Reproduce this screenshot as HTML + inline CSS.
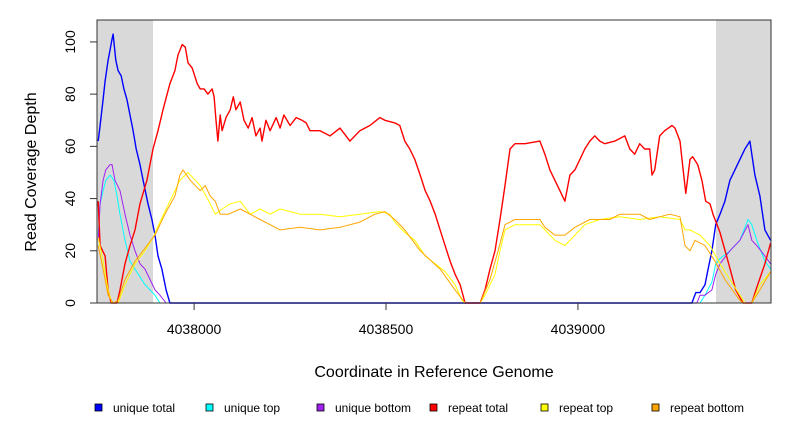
<!DOCTYPE html>
<html><head><meta charset="utf-8"><style>
body{margin:0;background:#fff;}
svg{display:block;font-family:"Liberation Sans",sans-serif;}
</style></head><body>
<svg id="chart" width="792" height="432" viewBox="0 0 792 432">
<rect x="97" y="20" width="56" height="283" fill="#d9d9d9"/>
<rect x="716" y="20" width="55" height="283" fill="#d9d9d9"/>
<g id="series"></g>
<rect x="97" y="20" width="674" height="283" fill="none" stroke="#333" stroke-width="1"/>
<g id="axes"></g>
<text x="26" y="162" transform="rotate(-90 36 162)" text-anchor="middle" font-size="16">Read Coverage Depth</text>
<text x="434" y="377" text-anchor="middle" font-size="16">Coordinate in Reference Genome</text>
<g id="legend"></g>
</svg>
<script>
const xTicks=[4038000,4038500,4039000];
const yTicks=[0,20,40,60,80,100];
const seriesNames=["unique total","unique top","unique bottom","repeat total","repeat top","repeat bottom"];
const uniqueTotalX=[4037750,4037755,4037763,4037768,4037776,4037781,4037786,4037789,4037796,4037802,4037810,4037817,4037825,4037833,4037841,4037849,4037859,4037867,4037880,4037890,4037898,4037906,4037916,4037927,4037937,4039297,4039307,4039318,4039331,4039339,4039349,4039359,4039370,4039383,4039396,4039409,4039422,4039435,4039448,4039453,4039461,4039474,4039487,4039502];
const uniqueTotalY=[62,68,78,85,93,97,101,103,93,89,87,82,78,72,66,59,53,47,38,32,26,18,13,5,0,0,4,4,7,13,20,30,34,39,47,51,55,59,62,57,49,41,28,24];
const uniqueTopX=[4037750,4037755,4037763,4037770,4037781,4037791,4037799,4037807,4037820,4037833,4037846,4037859,4037872,4037885,4037898,4037911,4039318,4039331,4039349,4039359,4039370,4039396,4039422,4039443,4039453,4039466,4039487,4039502];
const uniqueTopY=[26,38,43,47,49,47,41,34,24,16,13,10,7,5,3,0,0,3,8,15,17,20,24,32,30,24,16,13];
const uniqueBottomX=[4037750,4037755,4037763,4037770,4037781,4037786,4037794,4037807,4037820,4037833,4037846,4037859,4037872,4037885,4037898,4037911,4037927,4039310,4039318,4039331,4039349,4039359,4039370,4039396,4039422,4039443,4039453,4039466,4039487,4039502];
const uniqueBottomY=[24,38,47,51,53,53,47,43,34,26,20,15,13,9,5,3,0,0,3,3,5,11,15,20,24,30,24,22,18,15];
const repeatTotalX=[4037750,4037755,4037768,4037776,4037784,4037799,4037807,4037820,4037833,4037846,4037859,4037877,4037893,4037906,4037919,4037937,4037950,4037958,4037969,4037977,4037984,4037995,4038008,4038016,4038026,4038036,4038047,4038052,4038057,4038062,4038068,4038073,4038083,4038094,4038102,4038109,4038120,4038130,4038141,4038151,4038161,4038172,4038177,4038187,4038198,4038214,4038224,4038234,4038250,4038266,4038281,4038292,4038302,4038328,4038354,4038380,4038406,4038432,4038458,4038484,4038497,4038523,4038536,4038549,4038562,4038575,4038589,4038602,4038615,4038628,4038641,4038654,4038667,4038680,4038693,4038706,4038745,4038758,4038771,4038784,4038797,4038810,4038823,4038836,4038862,4038901,4038914,4038927,4038940,4038953,4038966,4038979,4038992,4039005,4039018,4039031,4039044,4039057,4039070,4039096,4039122,4039135,4039148,4039161,4039174,4039187,4039193,4039200,4039213,4039226,4039245,4039253,4039266,4039271,4039281,4039292,4039299,4039312,4039323,4039333,4039344,4039352,4039370,4039391,4039411,4039430,4039453,4039466,4039487,4039502];
const repeatTotalY=[39,22,18,5,0,0,5,15,22,28,38,47,59,66,74,84,89,95,99,98,92,90,84,82,82,80,82,79,70,62,72,66,71,74,79,74,77,70,67,71,64,67,62,70,66,71,67,72,68,71,70,69,66,66,64,67,62,66,68,71,70,69,68,62,59,55,49,43,39,34,28,22,16,11,7,0,0,5,13,20,32,45,59,61,61,62,57,51,47,43,39,49,51,55,59,62,64,62,61,62,64,59,57,61,59,59,49,51,64,66,68,67,62,55,42,55,56,53,47,39,38,34,27,16,5,0,0,6,15,23];
const repeatTopX=[4037750,4037763,4037776,4037786,4037802,4037820,4037846,4037872,4037893,4037911,4037937,4037963,4037984,4038003,4038016,4038042,4038055,4038073,4038094,4038120,4038146,4038172,4038198,4038224,4038250,4038276,4038328,4038380,4038432,4038484,4038510,4038523,4038549,4038575,4038602,4038628,4038654,4038680,4038698,4038706,4038745,4038758,4038784,4038797,4038810,4038836,4038901,4038914,4038940,4038966,4038992,4039018,4039057,4039109,4039161,4039213,4039266,4039279,4039292,4039318,4039344,4039370,4039396,4039422,4039435,4039453,4039474,4039502];
const repeatTopY=[25,16,5,0,0,7,15,20,25,31,39,47,50,47,45,38,34,36,38,39,34,36,34,36,35,34,34,33,34,35,34,31,27,24,18,15,12,7,1,0,0,3,11,20,28,30,30,28,24,22,26,30,32,33,32,33,32,28,28,26,22,15,9,3,0,0,7,12];
const repeatBottomX=[4037750,4037763,4037776,4037789,4037802,4037820,4037846,4037872,4037898,4037924,4037950,4037963,4037971,4037990,4038016,4038029,4038042,4038055,4038068,4038089,4038120,4038146,4038172,4038198,4038224,4038276,4038328,4038380,4038432,4038471,4038497,4038523,4038549,4038589,4038641,4038680,4038706,4038745,4038771,4038792,4038810,4038836,4038901,4038914,4038940,4038966,4038992,4039031,4039083,4039109,4039161,4039187,4039213,4039239,4039266,4039279,4039292,4039305,4039331,4039357,4039383,4039422,4039430,4039453,4039474,4039502];
const repeatBottomY=[22,13,3,0,1,9,16,21,26,34,41,49,51,47,43,45,41,39,34,34,36,34,32,30,28,29,28,29,31,34,35,32,28,20,13,5,0,0,9,20,30,32,32,29,26,26,29,32,32,34,34,32,33,34,33,22,20,24,22,16,9,1,0,0,5,12];

const X0=97,X1=771,Y0=303,Y1=20,XMIN=4037747,XMAX=4039503,YMIN=0,YMAX=108.4;
const sx=v=>X0+(v-XMIN)/(XMAX-XMIN)*(X1-X0);
const sy=v=>Y0-(v-YMIN)/(YMAX-YMIN)*(Y0-Y1);
const NS="http://www.w3.org/2000/svg";
function mk(tag,attrs,parent){const e=document.createElementNS(NS,tag);for(const k in attrs)e.setAttribute(k,attrs[k]);parent.appendChild(e);return e;}
function linePath(xs,ys){let d="M"+sx(xs[0]).toFixed(1)+","+sy(ys[0]).toFixed(1);for(let i=1;i<xs.length;i++){d+="L"+sx(xs[i]).toFixed(1)+","+sy(ys[i]).toFixed(1);}return d;}
const sg=document.getElementById("series");
const defs=[
 [uniqueTotalX,uniqueTotalY,"#0000ff",1.4,"series-unique-total"],
 [uniqueTopX,uniqueTopY,"#00ffff",1,"series-unique-top"],
 [uniqueBottomX,uniqueBottomY,"#a020f0",1,"series-unique-bottom"],
 [repeatTotalX,repeatTotalY,"#ff0000",1.4,"series-repeat-total"],
 [repeatTopX,repeatTopY,"#ffff00",1,"series-repeat-top"],
 [repeatBottomX,repeatBottomY,"#ffa500",1,"series-repeat-bottom"]];
const zl=mk("line",{x1:sx(4037937),x2:sx(4039310),y1:sy(0),y2:sy(0),stroke:"#5050e0","stroke-width":1.3},sg);


defs.forEach(d=>{
 const p=mk("path",{d:linePath(d[0],d[1]),fill:"none",stroke:d[2],"stroke-width":d[3],"stroke-linejoin":"round"},sg);
 
 
});
const ax=document.getElementById("axes");
xTicks.forEach(t=>{
 const l=mk("line",{x1:sx(t),x2:sx(t),y1:303,y2:310,stroke:"#333"},ax);
 
 
 const tx=mk("text",{x:sx(t),y:334,"text-anchor":"middle","font-size":14},ax);
 tx.textContent=t;
 
 
});
yTicks.forEach(t=>{
 const y=sy(t);
 const l=mk("line",{x1:90,x2:97,y1:y,y2:y,stroke:"#333"},ax);
 
 
 const tx=mk("text",{x:75,y:y,"text-anchor":"middle","font-size":14,transform:"rotate(-90 75 "+y+")"},ax);
 tx.textContent=t;
 
 
});
const lg=document.getElementById("legend");
const legCols=["#0000ff","#00ffff","#a020f0","#ff0000","#ffff00","#ffa500"];
const legX=[95,206,317,430,541,652];
seriesNames.forEach((n,i)=>{
 const r=mk("rect",{x:legX[i],y:404,width:7,height:7,fill:legCols[i],stroke:"#000","stroke-width":0.8},lg);
 
 
 const t=mk("text",{x:legX[i]+18,y:412,"font-size":12},lg);
 t.textContent=n;
 
 
});
</script>
</body></html>
